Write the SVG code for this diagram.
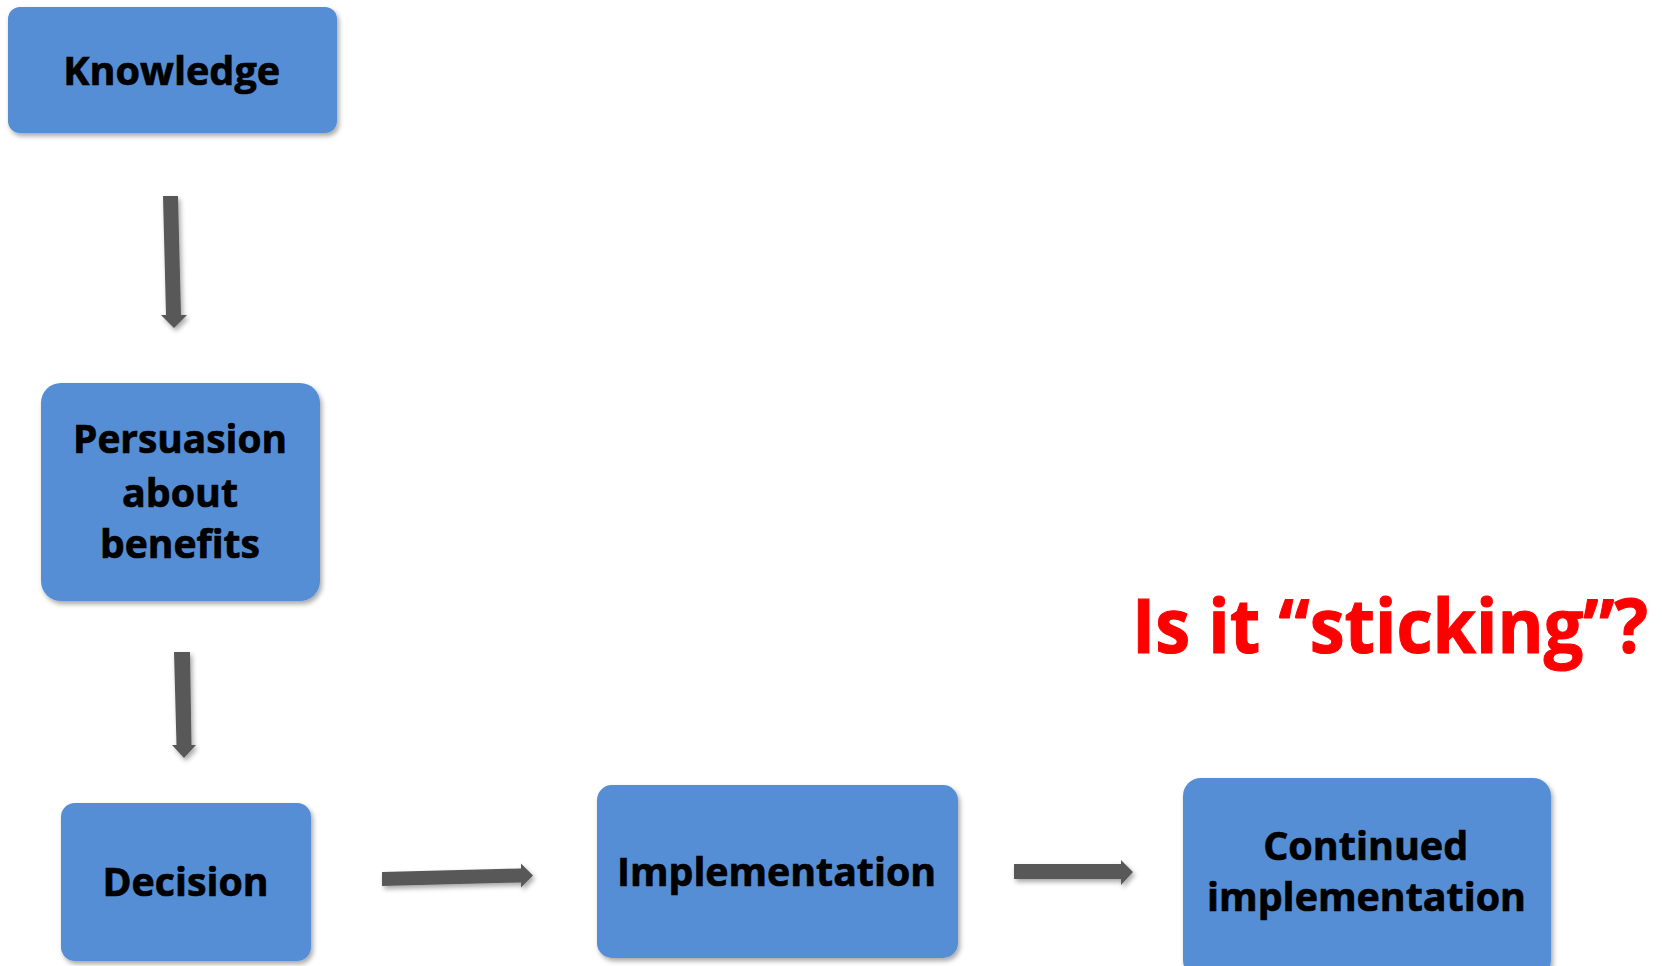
<svg xmlns="http://www.w3.org/2000/svg" width="1662" height="966" viewBox="0 0 1662 966">
  <defs>
    <filter id="shadow" x="-10%" y="-10%" width="125%" height="135%">
      <feDropShadow dx="2" dy="3" stdDeviation="2.5" flood-color="#000" flood-opacity="0.35"/>
    </filter>
    <style>
      .box { fill: #558ED5; filter: url(#shadow); }
      .label { font-family: "Open Sans", Lato, "Liberation Sans", sans-serif; font-weight: 700; font-size: 40px; fill: #000; stroke: #000; stroke-width: 0.7px; text-anchor: middle; font-variant-ligatures: none; }
      .arrow { fill: #595959; filter: url(#shadow); }
      .note { font-family: "Open Sans", Lato, "Liberation Sans", sans-serif; font-weight: 700; font-size: 72px; fill: #FF0000; stroke: #FF0000; stroke-width: 1px; font-variant-ligatures: none; }
    </style>
  </defs>
  <rect width="1662" height="966" fill="#FFFFFF"/>

  <!-- block arrows between the stages -->
  <g id="connectors">
    <polygon class="arrow" points="163,196 178,196 181,315 187,315 174,328 161,315 166,315"/>
    <polygon class="arrow" points="174,652 190,652 191.5,745 196,745 184,758 172,745 176.5,745"/>
    <polygon class="arrow" points="382,872 521,868.5 521,863.5 533,875.5 521,887.5 521,882.5 382,886"/>
    <polygon class="arrow" points="1014,864 1121,864 1121,860 1133,872 1121,885 1121,879 1014,879"/>
  </g>

  <g id="knowledge">
    <rect class="box" x="8" y="7" width="329" height="126" rx="12"/>
    <text class="label" x="171.7" y="85" textLength="217" lengthAdjust="spacingAndGlyphs">Knowledge</text>
  </g>

  <g id="persuasion">
    <rect class="box" x="41" y="383" width="279" height="218" rx="20"/>
    <text class="label" x="180" y="453" textLength="214" lengthAdjust="spacingAndGlyphs">Persuasion</text>
    <text class="label" x="180" y="507" textLength="116" lengthAdjust="spacingAndGlyphs">about</text>
    <text class="label" x="180" y="558" textLength="160" lengthAdjust="spacingAndGlyphs">benefits</text>
  </g>

  <g id="decision">
    <rect class="box" x="61" y="803" width="250" height="158" rx="14"/>
    <text class="label" x="185.5" y="896" textLength="166" lengthAdjust="spacingAndGlyphs">Decision</text>
  </g>

  <g id="implementation">
    <rect class="box" x="597" y="785" width="361" height="173" rx="15"/>
    <text class="label" x="776.5" y="886" textLength="319" lengthAdjust="spacingAndGlyphs">Implementation</text>
  </g>

  <g id="continued">
    <rect class="box" x="1183" y="778" width="368" height="200" rx="18"/>
    <text class="label" x="1365.7" y="860" textLength="205" lengthAdjust="spacingAndGlyphs">Continued</text>
    <text class="label" x="1366.5" y="911" textLength="319" lengthAdjust="spacingAndGlyphs">implementation</text>
  </g>

  <!-- red question, stretched slightly taller to match the heading weight -->
  <g id="question" transform="translate(1132,653) scale(1,1.05)">
    <text class="note" x="0" y="0" textLength="516" lengthAdjust="spacingAndGlyphs">Is it “sticking”?</text>
  </g>
</svg>
